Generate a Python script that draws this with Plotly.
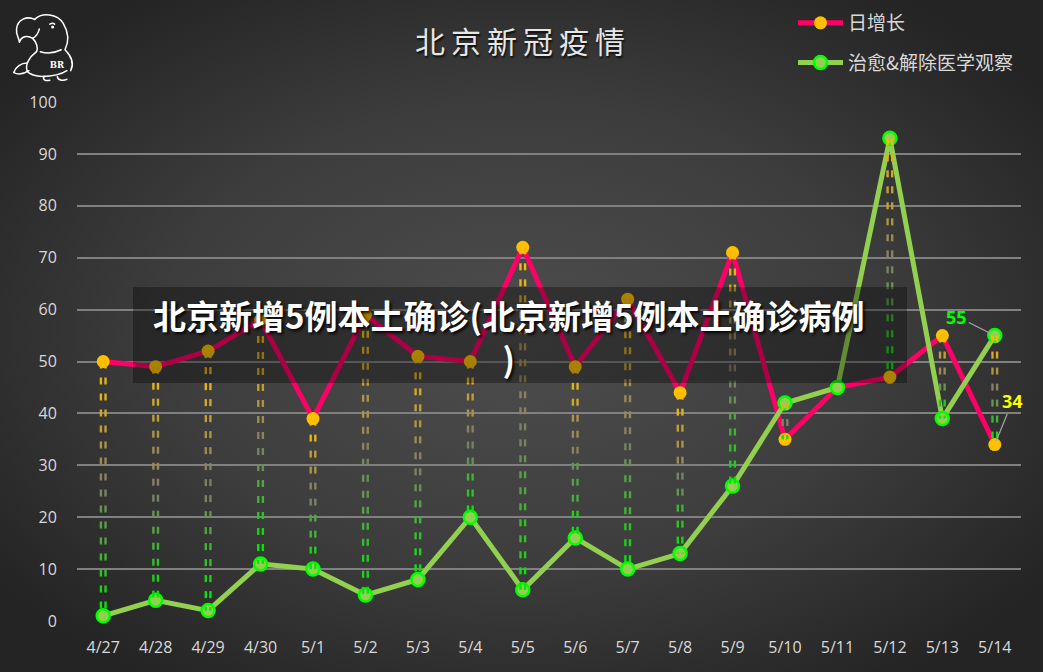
import base64
import plotly.graph_objects as go

# ---------------- data ----------------
dates = ["4/27", "4/28", "4/29", "4/30", "5/1", "5/2", "5/3", "5/4", "5/5",
         "5/6", "5/7", "5/8", "5/9", "5/10", "5/11", "5/12", "5/13", "5/14"]
daily_new = [50, 49, 52, 58, 39, 59, 51, 50, 72, 49, 62, 44, 71, 35, 45, 47, 55, 34]
recovered = [1, 4, 2, 11, 10, 5, 8, 20, 6, 16, 10, 13, 26, 42, 45, 93, 39, 55]
series_names = ["日增长", "治愈&解除医学观察"]
title_text = "北京新冠疫情"
overlay_line1 = "北京新增5例本土确诊(北京新增5例本土确诊病例"
overlay_line2 = ")"
y_ticks = list(range(0, 101, 10))

# ---------------- geometry helpers ----------------
FIG_W, FIG_H = 1043, 672
L, R, T, B = 77, 1021, 102, 621
PW, PH = R - L, B - T


def px(x):
    return (x - L) / PW


def py(y):
    return (B - y) / PH


FONT = "Noto Sans CJK SC, Noto Sans, sans-serif"
TICKFONT = "Open Sans, Noto Sans CJK SC, sans-serif"
xs = list(range(len(dates)))

fig = go.Figure()

# main series
fig.add_trace(go.Scatter(
    x=xs, y=daily_new, name=series_names[0], mode="lines+markers",
    line=dict(color="#FF0066", width=5),
    marker=dict(color="#FFC000", size=13, line=dict(width=0)),
    legendgroup="a", cliponaxis=False,
))
fig.add_trace(go.Scatter(
    x=xs, y=recovered, name=series_names[1], mode="lines+markers",
    line=dict(color="#92D050", width=5),
    marker=dict(color="#92D050", size=13, line=dict(color="#00FF00", width=2.5)),
    legendgroup="b", cliponaxis=False,
))

# ---------------- gradient double dashed drop lines ----------------
units_per_px = 100.0 / PH
dash_len = 7 * units_per_px
period = 16 * units_per_px
x_off = 2.3 / (PW / len(dates))
NBINS = 14
bins = {k: ([], []) for k in range(NBINS)}


def grad_color(t):
    c0 = (255, 192, 0)
    c1 = (128, 124, 104)
    c2 = (0, 235, 0)
    if t < 0.5:
        a, b, u = c0, c1, t / 0.5
    else:
        a, b, u = c1, c2, (t - 0.5) / 0.5
    return "rgb(%d,%d,%d)" % tuple(round(a[i] + (b[i] - a[i]) * u) for i in range(3))


for i in xs:
    top = max(daily_new[i], recovered[i])
    bot = min(daily_new[i], recovered[i])
    span = top - bot
    s = top
    while s > bot:
        e = max(s - dash_len, bot)
        t = ((top - (s + e) / 2) / span) if span else 0
        k = min(int(t * NBINS), NBINS - 1)
        bx, by = bins[k]
        for off in (-x_off, x_off):
            bx += [i + off, i + off, None]
            by += [s, e, None]
        s -= period

for k in range(NBINS):
    bx, by = bins[k]
    if not bx:
        continue
    fig.add_trace(go.Scatter(
        x=bx, y=by, mode="lines", showlegend=False, hoverinfo="skip",
        line=dict(color=grad_color((k + 0.5) / NBINS), width=2.4),
    ))

# ---------------- background (radial gradient) ----------------
bg_svg = (
    '<svg xmlns="http://www.w3.org/2000/svg" width="1043" height="672" viewBox="0 0 1043 672">'
    '<defs><radialGradient id="g" cx="0.5" cy="0.5" r="0.62">'
    '<stop offset="0" stop-color="#4d4d4d"/><stop offset="0.55" stop-color="#3d3d3d"/>'
    '<stop offset="1" stop-color="#242424"/></radialGradient></defs>'
    '<rect width="1043" height="672" fill="url(#g)"/></svg>'
)
bg_uri = "data:image/svg+xml;base64," + base64.b64encode(bg_svg.encode()).decode()

logo_svg = (
    '<svg xmlns="http://www.w3.org/2000/svg" width="80" height="80" viewBox="0 0 80 80">'
    '<g fill="none" stroke="white" stroke-width="1.6" stroke-linecap="round" stroke-linejoin="round">'
    '<path d="M28,12 C36,4 52,6 58,16 C64,26 64,36 60,44 C66,50 70,58 66,66"/>'
    '<path d="M28,12 C20,8 10,12 9,22 C8,28 12,32 12,36 C14,30 20,28 26,32 C30,30 32,26 33,22"/>'
    '<path d="M26,32 C30,36 32,42 30,46"/>'
    '<path d="M30,46 C22,52 18,60 20,66 C22,70 30,72 36,72 C46,72 56,70 62,66"/>'
    '<path d="M34,46 C40,48 48,48 56,44"/>'
    '<path d="M20,58 C14,58 8,62 6,68 C10,70 16,70 22,66"/>'
    '<path d="M38,72 C36,76 40,77 44,76 M52,72 C52,76 58,77 62,75"/>'
    '<circle cx="47" cy="20" r="0.8" fill="white"/>'
    '<path d="M44,17 C46,16 48,16 49,17"/>'
    '</g>'
    '<text x="44" y="63" font-family="DejaVu Serif" font-weight="bold" font-size="9" fill="white">BR</text>'
    '</svg>'
)
logo_uri = "data:image/svg+xml;base64," + base64.b64encode(logo_svg.encode()).decode()

fig.update_layout(
    images=[
        dict(source=bg_uri, xref="paper", yref="paper", x=px(0), y=py(0),
             sizex=FIG_W / PW, sizey=FIG_H / PH, xanchor="left", yanchor="top",
             sizing="stretch", layer="below"),
        dict(source=logo_uri, xref="paper", yref="paper", x=px(8), y=py(8),
             sizex=76 / PW, sizey=76 / PH, xanchor="left", yanchor="top",
             sizing="stretch", layer="above"),
    ],
)

# overlay box
fig.add_shape(type="rect", xref="paper", yref="paper",
              x0=px(133), x1=px(907), y0=py(383), y1=py(287),
              fillcolor="rgba(0,0,0,0.33)", line=dict(width=0), layer="above")

shadow = "2px 2px 3px rgba(0,0,0,0.9)"
annotations = [
    dict(text=title_text.replace("", "\u2009").strip("\u2009"), xref="paper", yref="paper",
         x=px(520), y=py(40), showarrow=False, xanchor="center", yanchor="middle",
         font=dict(family=FONT, size=30, color="#e6e6e6", shadow="1px 2px 2px rgba(0,0,0,0.8)")),
    dict(text="<b>" + overlay_line1 + "<br>" + overlay_line2 + "</b>", xref="paper", yref="paper",
         x=px(508), y=py(336), showarrow=False, xanchor="center", yanchor="middle",
         align="center",
         font=dict(family=FONT, size=33, color="#ffffff", shadow=shadow)),
    dict(text="<b>%d</b>" % recovered[-1], x=xs[-1], y=recovered[-1], xref="x", yref="y",
         showarrow=True, arrowhead=0, arrowwidth=1.2, arrowcolor="#a6a6a6",
         ax=-38, ay=-19, standoff=4,
         font=dict(family=TICKFONT, size=18, color="#00FF00")),
    dict(text="<b>%d</b>" % daily_new[-1], x=xs[-1], y=daily_new[-1], xref="x", yref="y",
         showarrow=True, arrowhead=0, arrowwidth=1.2, arrowcolor="#a6a6a6",
         ax=18, ay=-44, standoff=4,
         font=dict(family=TICKFONT, size=18, color="#FFFF00")),
]

fig.update_layout(
    width=FIG_W, height=FIG_H,
    margin=dict(l=L, r=FIG_W - R, t=T, b=FIG_H - B, autoexpand=False),
    paper_bgcolor="#333333", plot_bgcolor="rgba(0,0,0,0)",
    font=dict(family=FONT, color="#d9d9d9", size=16),
    annotations=annotations,
    showlegend=True,
    legend=dict(x=px(793), y=py(4), xanchor="left", yanchor="top",
                bgcolor="rgba(0,0,0,0)", font=dict(size=19, color="#d9d9d9", family=FONT),
                traceorder="grouped", tracegroupgap=12, itemwidth=45),
    xaxis=dict(range=[-0.5, len(dates) - 0.5], tickvals=xs, ticktext=dates,
               showgrid=False, zeroline=False, showline=False,
               ticks="outside", ticklen=12, tickcolor="rgba(0,0,0,0)",
               tickfont=dict(size=16, color="#d9d9d9", family=TICKFONT)),
    yaxis=dict(range=[0, 100], tickvals=y_ticks, showgrid=True, gridcolor="#808080",
               gridwidth=1.7, zeroline=False, showline=False,
               ticks="outside", ticklen=16, tickcolor="rgba(0,0,0,0)",
               tickfont=dict(size=16, color="#d9d9d9", family=TICKFONT)),
    hovermode=False,
)

fig.write_html("out.html")
